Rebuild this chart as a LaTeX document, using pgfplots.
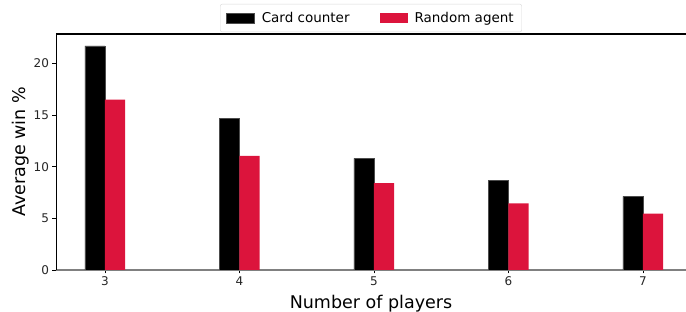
\documentclass[border=0pt]{standalone}
\usepackage{fontspec}
\setmainfont{DejaVu Sans}
\usepackage{pgfplots}
\pgfplotsset{compat=1.18}
\definecolor{crimson}{HTML}{DC143C}
\begin{document}
\begin{tikzpicture}
\begin{axis}[
  scale only axis,
  width=630pt, height=236pt,
  xmin=2.636, xmax=7.32,
  ymin=0, ymax=22.85,
  axis x line*=bottom, axis y line*=left,
  x axis line style={-, draw=gray, line width=1.4pt},
  y axis line style={-, draw=black, line width=0.9pt},
  xtick={3,4,5,6,7},
  ytick={0,5,10,15,20},
  tick align=outside,
  major tick length=3.5pt,
  tick style={black, line width=0.8pt},
  /pgf/number format/assume math mode=true,
  ticklabel style={font=\fontsize{12}{14}\selectfont, text=black!85},
  xlabel={Number of players},
  ylabel={Average win \%},
  label style={font=\fontsize{17.5}{20}\selectfont},
  xlabel style={yshift=-2pt},
  ylabel style={yshift=-2pt},
  legend columns=2,
  legend style={at={(0.5,1.008)}, anchor=south, draw=black!15, rounded corners=2pt,
    font=\fontsize{13.5}{16}\selectfont, inner xsep=6pt, inner ysep=6pt,
    /tikz/every odd column/.append style={column sep=5pt},
    /tikz/every even column/.append style={column sep=28pt}},
  legend image code/.code={\fill[#1, sharp corners] (0pt,-5pt) rectangle (28pt,5pt);},
  legend cell align=left,
]
\addplot[ybar, bar width=0.15, bar shift=-0.075, fill=black, draw=black!70, line width=0.5pt]
  coordinates {(3,21.7) (4,14.7) (5,10.8) (6,8.7) (7,7.13)};
\addlegendentry{Card counter}
\addplot[ybar, bar width=0.15, bar shift=0.075, fill=crimson, draw=none]
  coordinates {(3,16.5) (4,11.05) (5,8.4) (6,6.45) (7,5.45)};
\addlegendentry{Random agent}
\draw[black, line width=1.1pt] (rel axis cs:0,1) -- (rel axis cs:1,1);
\coordinate (sw) at (rel axis cs:0,0);
\coordinate (ne) at (rel axis cs:1,1);
\end{axis}
\pgfresetboundingbox
\useasboundingbox ([xshift=-56pt,yshift=-42pt]sw) rectangle ([yshift=34pt]ne);
\end{tikzpicture}
\end{document}
